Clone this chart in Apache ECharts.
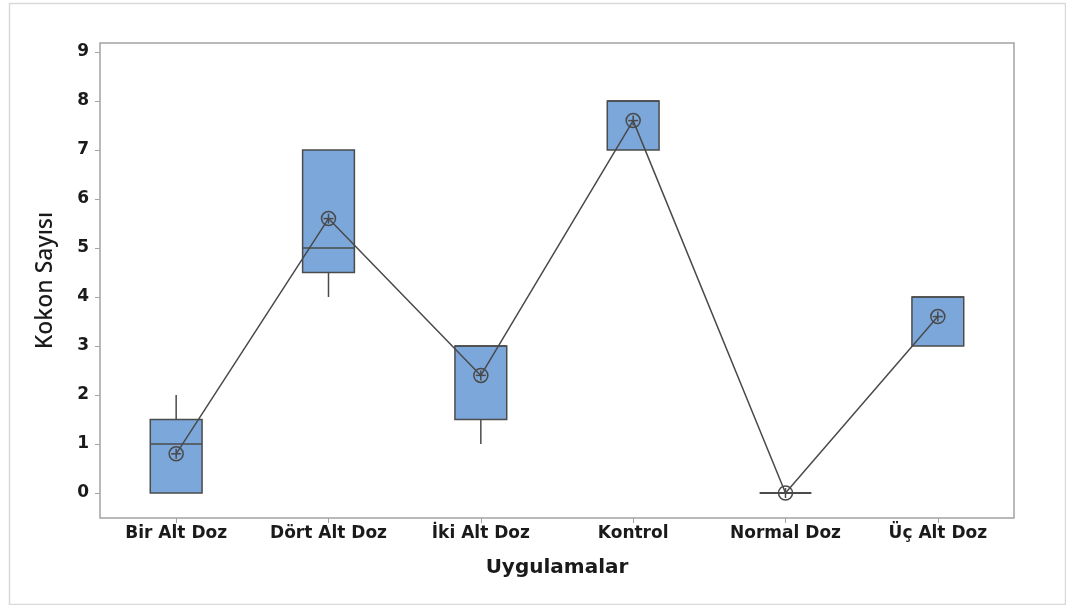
<!DOCTYPE html>
<html>
<head>
<meta charset="utf-8">
<script src="https://cdn.jsdelivr.net/npm/echarts@6/dist/echarts.min.js"></script>
<style>
html,body{margin:0;padding:0;background:#fff;}
#c{width:1066px;height:605px;}
</style>
</head>
<body>
<div id="c"></div>
<script>
// ---- data ----
var categories = ['Bir Alt Doz', 'Dört Alt Doz', 'İki Alt Doz', 'Kontrol', 'Normal Doz', 'Üç Alt Doz'];
var whiskerLow  = [0,   4,   1,   7, 0, 3];
var q1Values    = [0,   4.5, 1.5, 7, 0, 3];
var medians     = [1,   5,   3,   8, 0, 4];
var q3Values    = [1.5, 7,   3,   8, 0, 4];
var whiskerHigh = [2,   7,   3,   8, 0, 4];
var means       = [0.8, 5.6, 2.4, 7.6, 0, 3.6];
var yTicks      = [0, 1, 2, 3, 4, 5, 6, 7, 8, 9];

var TICK_FONT = '"DejaVu Sans", Verdana, sans-serif';
var TITLE_FONT = '"Noto Sans", "Open Sans", sans-serif';
var BOX_FILL = '#7ba7da';
var EDGE = '#4b4b4b';
var FRAME = '#a3a3a3';

var boxData = categories.map(function (c, i) {
  return [i, whiskerLow[i], q1Values[i], medians[i], q3Values[i], whiskerHigh[i]];
});
var meanData = categories.map(function (c, i) { return [i, means[i]]; });

var chart = echarts.init(document.getElementById('c'), null, {renderer: 'canvas'});
chart.setOption({
  animation: false,
  backgroundColor: '#ffffff',
  graphic: [{
    type: 'rect', left: 7, top: 1, z: -10,
    shape: {width: 1056, height: 601},
    style: {fill: 'none', stroke: '#d9d9d9', lineWidth: 1.5}
  }],
  grid: [
    {left: 100, right: 52, top: 52, bottom: 112, show: false},
    {left: 100, right: 52, top: 43, bottom: 87, show: true, borderColor: FRAME, borderWidth: 1.5, backgroundColor: 'transparent'}
  ],
  xAxis: [{
    type: 'category', gridIndex: 0, data: categories, show: false
  }, {
    type: 'category', gridIndex: 1, data: categories,
    axisLine: {show: false},
    axisTick: {show: true, alignWithLabel: true, length: 5, lineStyle: {color: FRAME, width: 1}},
    axisLabel: {color: '#1a1a1a', fontFamily: TICK_FONT, fontSize: 17, fontWeight: 'bold', margin: 7},
    splitLine: {show: false},
    name: 'Uygulamalar', nameLocation: 'middle', nameGap: 40,
    nameTextStyle: {color: '#1a1a1a', fontFamily: TICK_FONT, fontSize: 20, fontWeight: 'bold'}
  }],
  yAxis: [{
    type: 'value', gridIndex: 0, min: 0, max: 9, interval: 1,
    axisLine: {show: false},
    axisTick: {show: true, length: 5, lineStyle: {color: FRAME, width: 1}},
    axisLabel: {color: '#1a1a1a', fontFamily: TICK_FONT, fontSize: 17, fontWeight: 'bold', margin: 11,
      formatter: function (v) { return yTicks.indexOf(v) >= 0 ? String(v) : ''; }},
    splitLine: {show: false}
  }, {
    type: 'value', gridIndex: 1, min: 0, max: 1,
    axisLine: {show: false}, axisTick: {show: false}, axisLabel: {show: false}, splitLine: {show: false},
    name: 'Kokon Sayısı', nameLocation: 'middle', nameGap: 43,
    nameTextStyle: {color: '#1a1a1a', fontFamily: TITLE_FONT, fontSize: 23, fontWeight: 500}
  }],
  series: [{
    type: 'custom', xAxisIndex: 0, yAxisIndex: 0, z: 2,
    data: boxData,
    encode: {x: 0, y: [1, 2, 3, 4, 5]},
    renderItem: function (params, api) {
      var i = api.value(0);
      var mn = api.value(1), q1 = api.value(2), md = api.value(3), q3 = api.value(4), mx = api.value(5);
      var bw = api.size([1, 0])[0] * 0.34;
      var pq1 = api.coord([i, q1]), pq3 = api.coord([i, q3]);
      var x = pq1[0];
      var ls = {stroke: EDGE, lineWidth: 1.5, fill: 'none'};
      var ch = [];
      if (mx > q3) {
        var pmx = api.coord([i, mx]);
        ch.push({type: 'line', shape: {x1: x, y1: pq3[1], x2: x, y2: pmx[1]}, style: ls});
      }
      if (mn < q1) {
        var pmn = api.coord([i, mn]);
        ch.push({type: 'line', shape: {x1: x, y1: pq1[1], x2: x, y2: pmn[1]}, style: ls});
      }
      if (q3 > q1) {
        ch.push({type: 'rect', shape: {x: x - bw / 2, y: pq3[1], width: bw, height: pq1[1] - pq3[1]},
          style: {fill: BOX_FILL, stroke: EDGE, lineWidth: 1.5}});
      }
      var pmd = api.coord([i, md]);
      ch.push({type: 'line', shape: {x1: x - bw / 2, y1: pmd[1], x2: x + bw / 2, y2: pmd[1]},
        style: {stroke: EDGE, lineWidth: q3 > q1 ? 1.5 : 2.2}});
      return {type: 'group', children: ch};
    }
  }, {
    type: 'line', xAxisIndex: 0, yAxisIndex: 0, z: 3,
    data: means, symbol: 'none',
    lineStyle: {color: '#4a4a4a', width: 1.5}
  }, {
    type: 'custom', xAxisIndex: 0, yAxisIndex: 0, z: 4,
    data: meanData,
    encode: {x: 0, y: 1},
    renderItem: function (params, api) {
      var p = api.coord([api.value(0), api.value(1)]);
      var r = 7;
      var st = {stroke: '#4a4a4a', lineWidth: 1.5, fill: 'none'};
      return {type: 'group', children: [
        {type: 'circle', shape: {cx: p[0], cy: p[1], r: r}, style: st},
        {type: 'line', shape: {x1: p[0] - r + 2, y1: p[1], x2: p[0] + r - 2, y2: p[1]}, style: st},
        {type: 'line', shape: {x1: p[0], y1: p[1] - r + 2, x2: p[0], y2: p[1] + r - 2}, style: st}
      ]};
    }
  }]
});
</script>
</body>
</html>
